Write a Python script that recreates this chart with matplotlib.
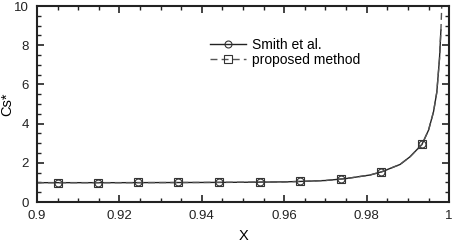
import matplotlib
matplotlib.use("Agg")
import matplotlib.pyplot as plt
from matplotlib.ticker import MultipleLocator

plt.rcParams['font.family'] = ['Liberation Sans', 'DejaVu Sans']

# curve
curve_x = [0.9, 0.92, 0.94, 0.95, 0.96, 0.965, 0.97, 0.975, 0.9808, 0.9837,
           0.9881, 0.9905, 0.9934, 0.9950, 0.9962, 0.9970, 0.99765, 0.998]
smith_y = [0.99, 0.99, 1.0, 1.01, 1.03, 1.06, 1.1, 1.2, 1.38, 1.55,
           1.92, 2.31, 2.94, 3.67, 4.6, 5.6, 7.3, 8.78]
proposed_x = curve_x + [0.9982]
proposed_y = smith_y + [10.0]

# marker positions
mark_x = [0.9052, 0.9149, 0.9244, 0.9343, 0.9442, 0.9540, 0.9638, 0.9737, 0.9835, 0.9934]
mark_y = [0.99, 0.99, 1.0, 1.0, 1.01, 1.02, 1.05, 1.17, 1.54, 2.96]

fig = plt.figure(figsize=(4.56, 2.42), dpi=100)
ax = fig.add_axes([0.081, 0.165, 0.904, 0.81])

ax.plot(curve_x, smith_y, color='#222222', lw=1.0)
ax.plot(mark_x, mark_y, ls='none', marker='o', ms=5, mfc='none', mec='#333333', mew=0.8)
ax.plot(proposed_x, proposed_y, color='#555555', lw=1.0, ls=(0, (5, 3)))
ax.plot(mark_x, mark_y, ls='none', marker='s', ms=5.5, mfc='none', mec='#333333', mew=0.8)

# legend handles
h1, = ax.plot([], [], color='#222222', lw=1.0, marker='o', ms=5, mfc='none', mec='#333333', mew=0.8)
h2, = ax.plot([], [], color='#555555', lw=1.0, ls=(0, (5, 3)), marker='s', ms=5.5, mfc='none', mec='#333333', mew=0.8)
ax.legend([h1, h2], ['Smith et al.', 'proposed method'], loc='upper left',
          bbox_to_anchor=(0.39, 0.90), frameon=False, fontsize=10,
          handlelength=2.6, handletextpad=0.4, labelspacing=0.05)

ax.set_xlim(0.9, 1.0)
ax.set_ylim(0, 10)
ax.xaxis.set_major_locator(MultipleLocator(0.02))
ax.xaxis.set_minor_locator(MultipleLocator(0.005))
ax.yaxis.set_major_locator(MultipleLocator(2))
ax.yaxis.set_minor_locator(MultipleLocator(0.5))
ax.set_xticks([0.9, 0.92, 0.94, 0.96, 0.98, 1.0])
ax.set_xticklabels(['0.9', '0.92', '0.94', '0.96', '0.98', '1'])
ax.tick_params(which='both', direction='in', top=True, right=True, labelsize=9.5, colors='#222222')
ax.tick_params(which='major', length=5, width=1.2, pad=6)
ax.tick_params(which='minor', length=3, width=1.0)
for s in ax.spines.values():
    s.set_linewidth(1.5)
    s.set_color('#222222')

ax.set_xlabel('X', fontsize=10.5)
ax.set_ylabel('Cs*', fontsize=10.5)
ax.xaxis.set_label_coords(0.5, -0.135)
ax.yaxis.set_label_coords(-0.056, 0.5)

plt.savefig('out.png', dpi=100)
